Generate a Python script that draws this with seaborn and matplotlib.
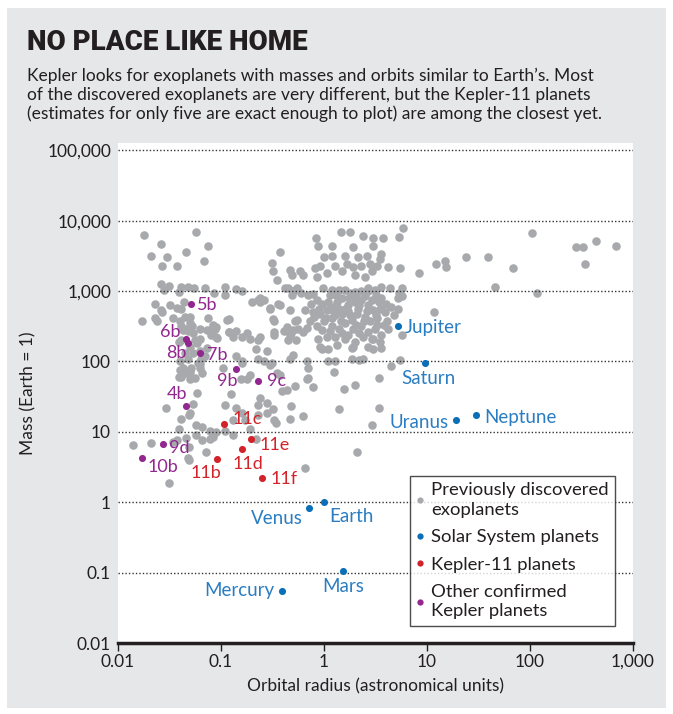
import matplotlib
matplotlib.use('Agg')
import matplotlib.pyplot as plt
from matplotlib.patches import Rectangle
from matplotlib.lines import Line2D
import seaborn as sns
import pandas as pd

# previously discovered exoplanets: orbital radius (AU), mass (Earth = 1)
exo_radius = [
    0.018, 0.026, 0.057, 0.074, 0.021, 0.030, 0.046, 0.027, 0.037, 0.068,
    0.026, 0.031, 0.041, 0.048, 0.055, 0.070, 0.028, 0.039, 0.11, 0.14, 0.16, 0.085, 0.11, 0.20, 0.23,
    0.023, 0.032, 0.044, 0.037, 0.041, 0.027, 0.023, 0.024, 0.017, 0.034, 0.050, 0.074, 0.115,
    0.041, 0.046, 0.052, 0.063, 0.078, 0.090, 0.12, 0.13, 0.16, 0.19, 0.23, 0.056, 0.059, 0.092, 0.039, 0.22,
    0.040, 0.046, 0.051, 0.063, 0.065, 0.056, 0.050, 0.041, 0.039, 0.063, 0.064, 0.14, 0.16, 0.105, 0.155, 0.18,
    0.058, 0.125, 0.029, 0.053, 0.050, 0.049, 0.11, 0.14, 0.16, 0.041, 0.057, 0.065, 0.078, 0.090, 0.039,
    0.13, 0.11, 0.046, 0.057, 0.065, 0.078, 0.083, 0.037, 0.034, 0.014, 0.021, 0.049, 0.049, 0.048, 0.072, 0.031,
    0.13, 0.17, 0.19, 0.22, 0.23, 0.28, 0.28, 0.23, 0.33, 0.39, 0.44,
    0.16, 0.19, 0.23, 0.26, 0.28, 0.31, 0.35, 0.37,
    0.12, 0.14, 0.12, 0.18, 0.24, 0.26, 0.30, 0.32, 0.37, 0.33, 0.41, 0.48,
    0.31, 0.32, 0.37, 0.47, 0.49, 0.50, 0.45,
    0.84, 0.87, 1.45, 1.8, 2.4, 3.0, 3.7, 5.8, 5.3, 1.2, 1.9, 3.0, 3.6, 1.0, 1.2, 1.6, 2.15, 2.6, 3.5, 3.3,
    0.58, 0.63, 0.82, 0.92, 1.07, 0.85, 1.28, 1.5, 1.67, 1.9, 2.3, 2.8, 2.0, 2.5, 2.9, 4.2, 5.5,
    0.52, 3.6, 4.4, 5.7, 5.3, 5.7, 0.98, 1.2, 1.6, 2.0, 2.7, 3.1, 0.24, 0.30, 0.36,
    0.6, 0.7, 0.85, 0.95, 1.15, 1.33, 1.5, 1.7, 2.0, 2.3, 2.7, 3.0, 3.5, 3.9, 4.5,
    0.65, 0.78, 0.91, 1.07, 1.28, 1.5, 1.8, 2.1, 2.5, 2.8, 3.3, 4.1,
    0.73, 0.85, 1.0, 1.2, 1.4, 1.6, 1.9, 2.3, 2.7, 3.1, 3.6, 4.2,
    0.52, 0.56, 0.47, 0.33, 0.33, 0.24, 0.45, 0.54, 0.62, 0.88, 1.07, 1.28, 1.6, 2.0, 2.4, 3.0, 3.5,
    0.91, 1.1, 1.33, 1.9, 2.7, 5.7,
    0.75, 1.2, 1.6, 2.15, 1.85, 0.95, 1.7, 1.2, 0.78, 1.4, 1.8, 2.3, 3.2,
    0.95, 1.85, 3.0, 3.6, 0.5, 0.47, 0.68, 1.1, 1.28, 1.85, 2.2, 2.4, 5.5, 0.3, 4.5, 0.7, 0.7, 0.68,
    1.25, 3.4, 0.52, 0.78, 1.55, 2.0, 0.24, 0.32, 0.48, 0.47, 0.63, 0.34, 1.4, 3.4, 2.9, 2.1, 0.66,
    104, 24, 39, 12.3, 14.8, 15.4, 8.3, 69, 46, 116, 280, 330, 440, 680, 340, 5.2, 5.2, 11.6,
    0.040, 0.045, 0.050, 0.043, 0.048, 0.054, 0.041, 0.050, 0.045, 0.040, 0.048, 0.054, 0.060, 0.043, 0.050,
    0.063, 0.073, 0.084, 0.026, 0.063, 0.070, 0.073, 0.080, 0.090, 0.087,
    0.35, 0.42, 0.49, 0.55, 0.47, 0.55, 0.44, 0.50,
    1.1, 1.4, 1.75, 2.5, 2.9, 3.4, 0.9, 1.25, 1.7, 2.2, 2.6, 3.2, 1.05, 1.45, 2.05,
    2.45, 3.8, 1.15, 1.5, 2.2, 2.9, 3.3, 0.8, 0.68, 1.3, 2.05, 2.7, 3.6, 4.0, 4.8,
]
exo_mass = [
    6200, 4600, 6800, 4300, 3200, 3000, 3600, 2300, 2300, 2700,
    1250, 1200, 1150, 1130, 1100, 1100, 1020, 970, 1140, 1060, 990, 950, 870, 710, 740,
    660, 640, 710, 570, 550, 510, 410, 370, 370, 410, 430, 410, 390,
    320, 290, 320, 290, 280, 310, 260, 220, 220, 210, 205, 205, 180, 215, 190, 150,
    75, 68, 80, 82, 68, 58, 56, 61, 61, 91, 110, 120, 100, 80, 56, 56,
    36, 34, 22, 25, 18.5, 17.5, 24, 22, 18.5, 15, 12.5, 11.7, 10.4, 10, 11,
    9, 10.2, 8.2, 9, 7.6, 7.9, 8.5, 7.6, 7.1, 6.5, 6.9, 6.1, 4.0, 4.3, 5.2, 1.85,
    14.5, 14.5, 11, 7.9, 24, 26, 18.5, 17.5, 14.5, 38, 39,
    94, 64, 110, 103, 140, 94, 69, 64,
    400, 270, 265, 250, 690, 740, 580, 400, 630, 265, 270, 250,
    2500, 1900, 3600, 2000, 1700, 1000, 1120,
    5600, 4400, 6800, 7000, 6000, 5700, 5600, 7800, 5900, 4300, 4200, 4300, 3400, 3000, 3200, 3200, 3000, 3200, 2900, 2300,
    1900, 1700, 2100, 2300, 1800, 1600, 2300, 1900, 2400, 2200, 2300, 2400, 1700, 1600, 1900, 2200, 2100,
    1050, 1140, 1100, 1120, 950, 850, 1120, 1050, 1050, 970, 1120, 1030, 800, 560, 660,
    950, 870, 750, 660, 870, 710, 800, 630, 710, 750, 630, 540, 560, 500, 600,
    540, 500, 470, 540, 450, 470, 450, 470, 430, 370, 410, 370,
    370, 320, 370, 320, 290, 350, 290, 320, 260, 290, 240, 290,
    370, 290, 240, 370, 240, 220, 200, 200, 260, 210, 220, 220, 210, 190, 220, 210, 190,
    160, 150, 170, 160, 160, 240,
    660, 600, 560, 560, 390, 280, 240, 410, 910, 1020, 950, 990, 870,
    148, 155, 150, 155, 122, 110, 100, 100, 100, 110, 105, 110, 105, 90, 85, 80, 58, 56,
    70, 58, 45, 43, 40, 46, 30, 21, 23, 15, 17, 13.5, 21, 22, 12.5, 5.1, 3.05,
    6600, 3000, 3000, 2400, 2700, 2200, 1800, 2100, 1140, 950, 4200, 4200, 5200, 4300, 2400, 800, 560, 500,
    380, 430, 350, 280, 270, 250, 200, 160, 130, 100, 110, 130, 94, 82, 70,
    210, 280, 330, 540, 140, 120, 155, 240, 220, 290,
    1430, 1120, 870, 1120, 540, 390, 310, 280,
    700, 560, 800, 850, 740, 700, 560, 500, 520, 640, 520, 460, 420, 380, 330,
    370, 330, 270, 250, 250, 210, 330, 430, 300, 880, 860, 1000, 800, 650, 450,
]

solar_names = ['Mercury', 'Venus', 'Earth', 'Mars', 'Jupiter', 'Saturn', 'Uranus', 'Neptune']
solar_radius = [0.387, 0.723, 1.0, 1.524, 5.2, 9.54, 19.2, 30.1]
solar_mass = [0.055, 0.815, 1.0, 0.107, 318, 95, 14.5, 17.1]

k11_names = ['11b', '11c', '11d', '11e', '11f']
k11_radius = [0.091, 0.107, 0.161, 0.196, 0.252]
k11_mass = [4.1, 12.9, 5.75, 8.0, 2.23]

kep_names = ['4b', '5b', '6b', '7b', '8b', '9b', '9c', '9d', '10b']
kep_radius = [0.0457, 0.051, 0.0457, 0.0625, 0.048, 0.141, 0.227, 0.0275, 0.017]
kep_mass = [23.5, 650, 208, 134, 181, 77, 52, 6.7, 4.3]

GREY = '#a7a9ac'
BLUE = '#0b6fb8'
BLUE_TXT = '#2a7dc2'
RED = '#d2232a'
PURPLE = '#92278f'
INK = '#231f20'

sns.set_theme(style='white')
plt.rcParams['font.family'] = ['Lato', 'DejaVu Sans']
plt.rcParams['text.color'] = INK

fig = plt.figure(figsize=(6.73, 7.14), dpi=100)
fig.patch.set_facecolor('white')
fig.patches.append(Rectangle((7 / 673, 6 / 714), 659 / 673, 700 / 714,
                             transform=fig.transFigure, facecolor='#e6e7e8',
                             edgecolor='none', zorder=-10))

ax = fig.add_axes([118 / 673, 71 / 714, 515 / 673, 500 / 714])
ax.set_facecolor('white')

exo = pd.DataFrame({'radius': exo_radius, 'mass': exo_mass})
sol = pd.DataFrame({'radius': solar_radius, 'mass': solar_mass})
k11 = pd.DataFrame({'radius': k11_radius, 'mass': k11_mass})
kep = pd.DataFrame({'radius': kep_radius, 'mass': kep_mass})

sns.scatterplot(data=exo, x='radius', y='mass', ax=ax, color=GREY, s=38,
                linewidth=0, zorder=3)
sns.scatterplot(data=sol, x='radius', y='mass', ax=ax, color=BLUE, s=26,
                linewidth=0, zorder=4)
sns.scatterplot(data=k11, x='radius', y='mass', ax=ax, color=RED, s=26,
                linewidth=0, zorder=4)
sns.scatterplot(data=kep, x='radius', y='mass', ax=ax, color=PURPLE, s=26,
                linewidth=0, zorder=4)

ax.set_xscale('log')
ax.set_yscale('log')
ax.set_xlim(0.01, 1000)
ax.set_ylim(0.01, 1.27e5)

xt = [0.01, 0.1, 1, 10, 100, 1000]
ax.set_xticks(xt)
ax.set_xticklabels(['0.01', '0.1', '1', '10', '100', '1,000'])
yt = [0.01, 0.1, 1, 10, 100, 1000, 10000, 100000]
ax.set_yticks(yt)
ax.set_yticklabels(['0.01', '0.1', '1', '10', '100', '1,000', '10,000', '100,000'])
ax.minorticks_off()
ax.tick_params(axis='x', length=6, width=1, color=INK, direction='out',
               labelsize=12.5, labelcolor=INK, pad=2)
ax.tick_params(axis='y', length=0, labelsize=12.5, labelcolor=INK, pad=5)
ax.xaxis.set_ticks_position('bottom')

for s in ['top', 'right', 'left']:
    ax.spines[s].set_visible(False)
ax.spines['bottom'].set_color(INK)
ax.spines['bottom'].set_linewidth(2.5)

for v in yt[1:]:
    ax.axhline(v, color='#333333', lw=1, ls=(0, (1, 1.5)), zorder=3.5)

ax.set_xlabel('Orbital radius (astronomical units)', fontsize=12.5, color=INK, labelpad=6)
ax.set_ylabel('Mass (Earth = 1)', fontsize=12.5, color=INK, labelpad=8)

# point labels: (dx, dy) in pixels, alignment
solar_off = {
    'Mercury': (-7, 0, 'right'), 'Venus': (-7, -10, 'right'), 'Earth': (5, -14, 'left'),
    'Mars': (0, -16, 'center'), 'Jupiter': (7, -1, 'left'), 'Saturn': (4, -15, 'center'),
    'Uranus': (-8, -2, 'right'), 'Neptune': (8, -2, 'left'),
}
for n, x, y in zip(solar_names, solar_radius, solar_mass):
    dx, dy, ha = solar_off[n]
    ax.annotate(n, (x, y), xytext=(dx, dy), textcoords='offset pixels',
                ha=ha, va='center', fontsize=13.5, color=BLUE_TXT, zorder=5)

k11_off = {
    '11b': (4, -14, 'right'), '11c': (8, 5, 'left'), '11d': (-10, -15, 'left'),
    '11e': (8, -6, 'left'), '11f': (8, -1, 'left'),
}
for n, x, y in zip(k11_names, k11_radius, k11_mass):
    dx, dy, ha = k11_off[n]
    ax.annotate(n, (x, y), xytext=(dx, dy), textcoords='offset pixels',
                ha=ha, va='center', fontsize=13, color=RED, zorder=5)

kep_off = {
    '4b': (1, 12, 'right'), '5b': (6, -1, 'left'), '6b': (-5, 7, 'right'),
    '7b': (7, -2, 'left'), '8b': (-2, -10, 'right'), '9b': (1, -12, 'right'),
    '9c': (9, 0, 'left'), '9d': (6, -4, 'left'), '10b': (6, -9, 'left'),
}
for n, x, y in zip(kep_names, kep_radius, kep_mass):
    dx, dy, ha = kep_off[n]
    ax.annotate(n, (x, y), xytext=(dx, dy), textcoords='offset pixels',
                ha=ha, va='center', fontsize=13, color=PURPLE, zorder=5)

handles = [
    Line2D([], [], ls='none', marker='o', ms=4.5, color=GREY, mec='none'),
    Line2D([], [], ls='none', marker='o', ms=4.5, color=BLUE, mec='none'),
    Line2D([], [], ls='none', marker='o', ms=4.5, color=RED, mec='none'),
    Line2D([], [], ls='none', marker='o', ms=4.5, color=PURPLE, mec='none'),
]
labels = ['Previously discovered\nexoplanets', 'Solar System planets',
          'Kepler-11 planets', 'Other confirmed\nKepler planets']
leg = ax.legend(handles, labels, loc='upper left', bbox_to_anchor=(0.567, 0.334),
                fontsize=13.3, frameon=True, fancybox=False, handlelength=0.4,
                handletextpad=0.4, borderpad=0.35, labelspacing=0.62,
                borderaxespad=0)
leg.get_frame().set_edgecolor(INK)
leg.get_frame().set_linewidth(1)
leg.set_zorder(6)
for t in leg.get_texts():
    t.set_color(INK)
    t.set_linespacing(1.25)

fig.text(27 / 673, 1 - 42 / 714, 'NO PLACE LIKE HOME', fontsize=20, fontweight='black',
         family=['Roboto', 'DejaVu Sans'],
         color=INK, ha='left', va='center')
fig.text(27 / 673, 1 - 95 / 714,
         "Kepler looks for exoplanets with masses and orbits similar to Earth\u2019s. Most\n"
         "of the discovered exoplanets are very different, but the Kepler-11 planets\n"
         "(estimates for only five are exact enough to plot) are among the closest yet.",
         fontsize=12.5, color=INK, ha='left', va='center', linespacing=1.2)

fig.savefig('out.png', dpi=100)
